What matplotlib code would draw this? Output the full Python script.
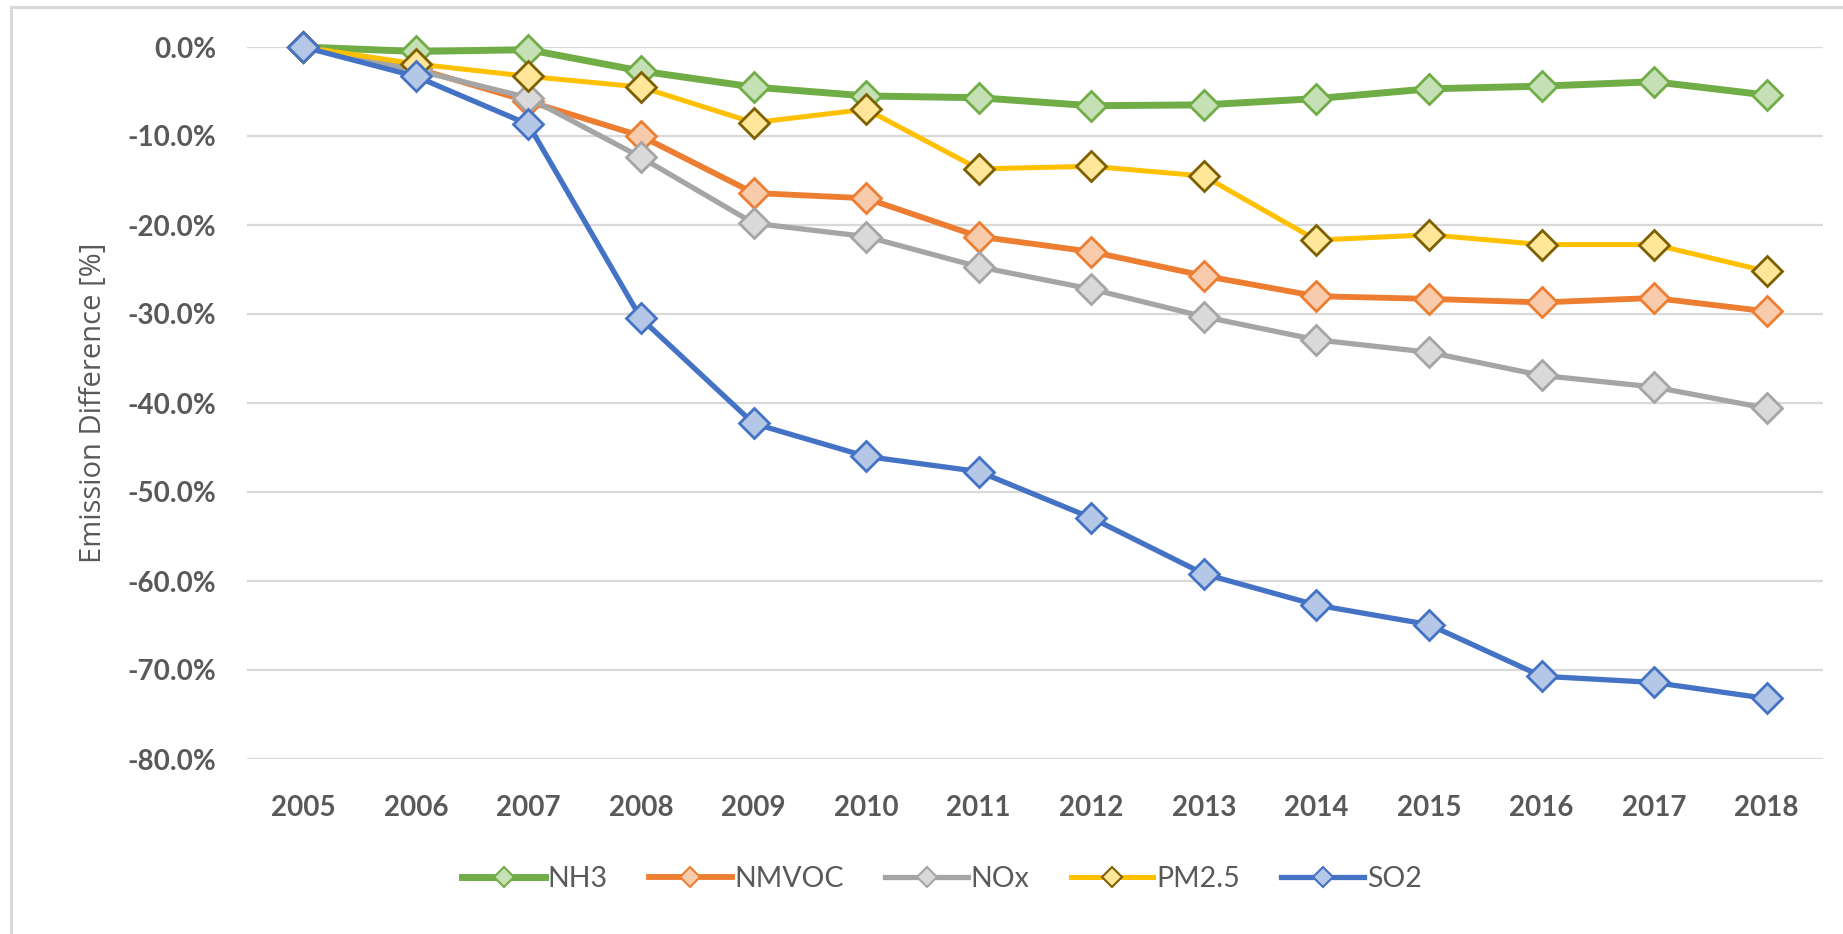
import matplotlib
matplotlib.use("Agg")
import matplotlib.pyplot as plt
from matplotlib.lines import Line2D
from matplotlib.ticker import FuncFormatter

# values, percent change vs 2005
YEARS = [2005, 2006, 2007, 2008, 2009, 2010, 2011, 2012, 2013, 2014, 2015, 2016, 2017, 2018]
NH3 = [0.0, -0.5, -0.3, -2.7, -4.5, -5.5, -5.7, -6.6, -6.5, -5.8, -4.7, -4.4, -3.9, -5.4]
NMVOC = [0.0, -2.4, -6.1, -10.0, -16.4, -17.0, -21.3, -23.0, -25.7, -28.0, -28.3, -28.7, -28.2, -29.7]
NOX = [0.0, -2.6, -5.7, -12.4, -19.8, -21.3, -24.7, -27.2, -30.3, -32.9, -34.3, -36.9, -38.2, -40.6]
PM25 = [0.0, -1.9, -3.3, -4.5, -8.5, -7.0, -13.7, -13.4, -14.5, -21.7, -21.1, -22.2, -22.2, -25.2]
SO2 = [0.0, -3.3, -8.7, -30.5, -42.3, -46.0, -47.7, -52.9, -59.2, -62.7, -64.9, -70.7, -71.4, -73.2]
Y_TICKS = [0, -10, -20, -30, -40, -50, -60, -70, -80]

# name, values, line colour, marker fill, marker edge, line width
SERIES = [
    ("NH3", NH3, "#70AD47", "#C5E0B4", "#70AD47", 5.0),
    ("NMVOC", NMVOC, "#ED7D31", "#F8CBAD", "#ED7D31", 4.2),
    ("NOx", NOX, "#A5A5A5", "#D9D9D9", "#A5A5A5", 3.8),
    ("PM2.5", PM25, "#FFC000", "#FFE699", "#7F6000", 3.6),
    ("SO2", SO2, "#4472C4", "#B4C7E7", "#4472C4", 3.8),
]

TEXT = "#595959"
GRID = "#D9D9D9"

fig = plt.figure(figsize=(18.43, 9.34), dpi=100)
ax = fig.add_axes([247 / 1843, 1 - 759 / 934, (1823 - 247) / 1843, (759 - 47) / 934])

x = list(range(len(YEARS)))
for name, values, color, fill, edge, lw in SERIES:
    ax.plot(x, values, color=color, linewidth=lw, marker="D", markersize=15,
            markerfacecolor=fill, markeredgecolor=edge, markeredgewidth=2.0,
            clip_on=False, zorder=3, label=name)

ax.set_xlim(-0.5, len(YEARS) - 0.5)
ax.set_ylim(-80, 0)
ax.set_yticks(Y_TICKS)
ax.yaxis.set_major_formatter(FuncFormatter(lambda v, _: f"{abs(v):.1f}%" if v == 0 else f"{v:.1f}%"))
ax.set_xticks(x)
ax.set_xticklabels([str(y) for y in YEARS])

for spine in ax.spines.values():
    spine.set_visible(False)
ax.grid(axis="y", color=GRID, linewidth=1.6, zorder=0)
ax.set_axisbelow(True)
ax.tick_params(axis="both", length=0, labelcolor=TEXT, labelsize=20)
ax.tick_params(axis="x", pad=26)
ax.tick_params(axis="y", pad=22)
for lab in ax.get_xticklabels() + ax.get_yticklabels():
    lab.set_fontfamily("Lato")
    lab.set_fontweight("bold")

ax.set_ylabel("Emission Difference [%]", fontsize=21, color=TEXT, family="Open Sans", labelpad=14)

handles = [Line2D([0], [0], color=c, linewidth=lw, marker="D", markersize=10,
                  markerfacecolor=f, markeredgecolor=e, markeredgewidth=1.5)
           for _, _, c, f, e, lw in SERIES]
fig.legend(handles, [s[0] for s in SERIES], loc="center", bbox_to_anchor=(942 / 1843, 1 - 879 / 934),
           ncol=5, frameon=False, handlelength=2.9, handletextpad=0.1, columnspacing=1.45,
           prop={"family": "Lato", "size": 20.5}, labelcolor=TEXT)

# chart area border (only left and top edges fall inside the picture)
fig.add_artist(Line2D([11 / 1843, 11 / 1843], [0, 1 - 7 / 934], transform=fig.transFigure, color=GRID, linewidth=2.2))
fig.add_artist(Line2D([11 / 1843, 1], [1 - 7 / 934, 1 - 7 / 934], transform=fig.transFigure, color=GRID, linewidth=2.2))

fig.savefig("out.png", dpi=100)
